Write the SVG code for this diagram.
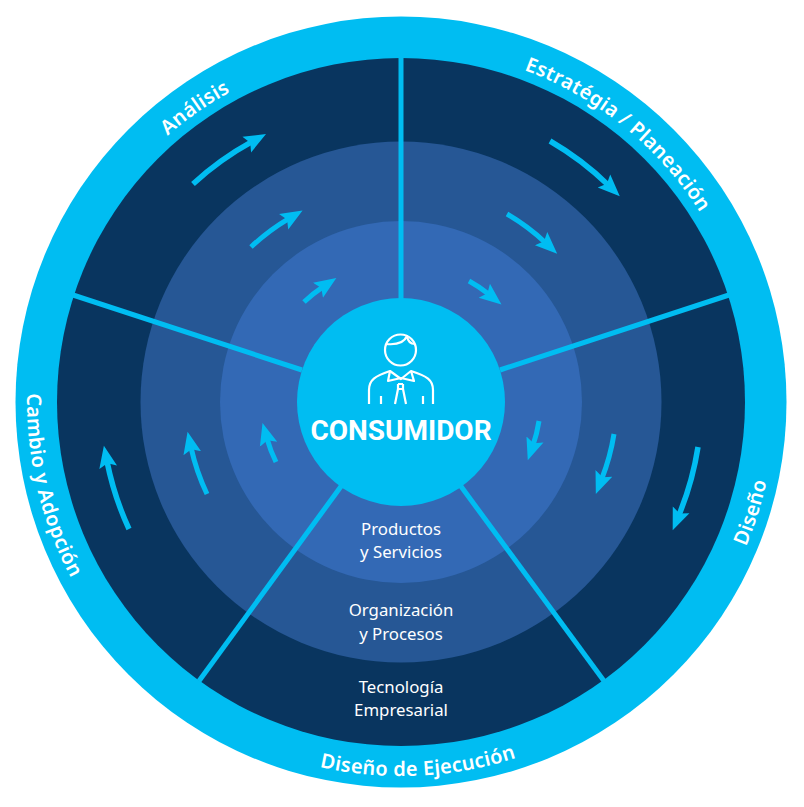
<svg xmlns="http://www.w3.org/2000/svg" width="804" height="807" viewBox="0 0 804 807">
<defs>
<style>
.lab{font-family:"Noto Sans","Open Sans",sans-serif;font-size:20px;font-weight:600;fill:#fff;text-anchor:middle;letter-spacing:.3px}
.t{font-family:"Noto Sans","Open Sans",sans-serif;font-size:16.800px;fill:#fff;text-anchor:middle}
.spoke{stroke:#00bdf2;stroke-width:5;fill:none}
.arr{stroke:#00bdf2;stroke-width:5.500;fill:none;marker-end:url(#h)}
.arrs{stroke:#00bdf2;stroke-width:5;fill:none;marker-end:url(#h)}
.ic{stroke:#fff;stroke-width:2.200;fill:none;stroke-linejoin:round}
</style>
<marker id="h" markerUnits="userSpaceOnUse" markerWidth="24" markerHeight="22" refX="6" refY="10" orient="auto"><path d="M0,1 L22,10 L0,19 L4,10Z" fill="#00bdf2"/></marker>
<path id="top" d="M94.400,225 A354,354 0 0 1 707.600,225"/>
<path id="bot" d="M77.100,589 A374,374 0 0 0 724.900,589"/>
</defs>
<g id="rings">
<circle cx="401" cy="402" r="385.500" fill="#00bdf2"/>
<circle cx="401" cy="402" r="344" fill="#09355f"/>
<circle cx="401" cy="402" r="260.500" fill="#265795"/>
<circle cx="401" cy="402" r="181" fill="#3369b5"/>
</g>
<g id="connectors">
<path class="spoke" d="M401,58V300"/>
<path class="spoke" d="M729,295L500,370"/>
<path class="spoke" d="M73,295L302,370"/>
<path class="spoke" d="M199,681L342,485"/>
<path class="spoke" d="M604,681L460,485"/>
<path class="arr" d="M193,184A300,300 0 0 1 252,141.700"/>
<path class="arr" d="M550,141A300,300 0 0 1 608.300,185.100"/>
<path class="arr" d="M698,447A300,300 0 0 1 678.800,515.400"/>
<path class="arr" d="M129,529A300,300 0 0 1 107,461.400"/>
<path class="arrs" d="M251,247A215,215 0 0 1 288.800,218.600"/>
<path class="arrs" d="M507,214A215,215 0 0 1 545.500,242.700"/>
<path class="arrs" d="M614,434A215,215 0 0 1 601.700,479"/>
<path class="arrs" d="M207,494A215,215 0 0 1 191,447.400"/>
<path class="arrs" d="M304,302A139,139 0 0 1 323,286.900"/>
<path class="arrs" d="M469,281A139,139 0 0 1 489,294.400"/>
<path class="arrs" d="M539,421A139,139 0 0 1 533,445.200"/>
<path class="arrs" d="M276,462A139,139 0 0 1 266.900,438.400"/>
</g>
<g id="consumidor">
<circle cx="401" cy="402" r="104" fill="#00bdf2"/>
<circle class="ic" cx="400.500" cy="350" r="15.500"/>
<path class="ic" d="M386,344C396,345 404,343 407,336C408,342 411,344 415,344"/>
<path class="ic" d="M369,404V390C369,380 375,376 390,371L401,379L411,371C427,376 433,380 433,390V404"/>
<path class="ic" d="M390,371L388,381L401,378L414,381L411,371M398,384V389L395,404M403,384V389L406,404M398,384H403M398,389H403M381,396V404M423,396V404"/>
<text x="401" y="440" text-anchor="middle" style="font-family:Roboto,sans-serif;font-size:28px;font-weight:700;fill:#fff">CONSUMIDOR</text>
</g>
<g id="analisis"><text class="lab" transform="rotate(-35 401 402)"><textPath href="#top" startOffset="50%">Análisis</textPath></text></g>
<g id="estrategia"><text class="lab" transform="rotate(39 401 402)"><textPath href="#top" startOffset="50%">Estratégia / Planeación</textPath></text></g>
<g id="diseno"><text class="lab" transform="rotate(-72.500 401 402)"><textPath href="#bot" startOffset="50%">Diseño</textPath></text></g>
<g id="cambio"><text class="lab" transform="rotate(76.600 401 402)"><textPath href="#bot" startOffset="50%">Cambio y Adopción</textPath></text></g>
<g id="ejecucion"><text class="lab" transform="rotate(-2.700 401 402)"><textPath href="#bot" startOffset="50%">Diseño de Ejecución</textPath></text></g>
<g id="productos"><text class="t" x="401" y="535">Productos</text><text class="t" x="401" y="558">y Servicios</text></g>
<g id="organizacion"><text class="t" x="401" y="616">Organización</text><text class="t" x="401" y="640">y Procesos</text></g>
<g id="tecnologia"><text class="t" x="401" y="693">Tecnología</text><text class="t" x="401" y="716">Empresarial</text></g>
</svg>
